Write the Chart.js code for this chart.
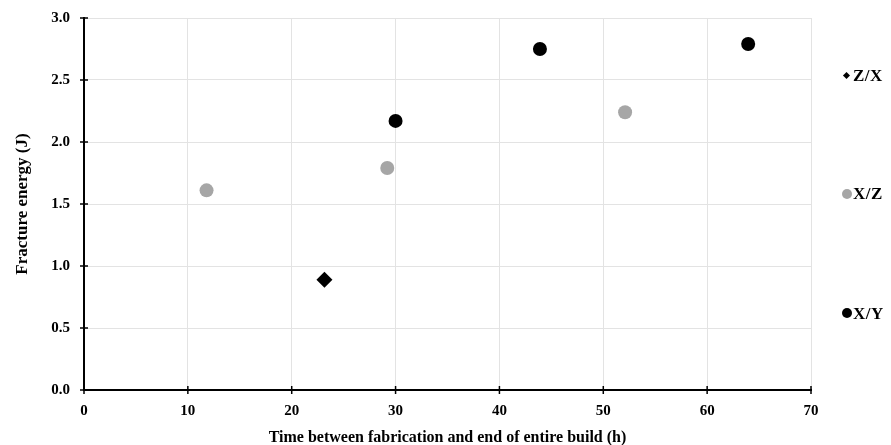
<!DOCTYPE html>
<html><head><meta charset="utf-8">
<script src="https://cdn.jsdelivr.net/npm/chart.js@4/dist/chart.umd.min.js"></script>
<style>
html,body{margin:0;padding:0;background:#fff;}
#wrap{position:relative;width:891px;height:445px;}
canvas{position:absolute;left:0;top:0;}
.mk{position:absolute;}
.lt{position:absolute;left:853px;font:bold 17px "Liberation Serif",serif;color:#000;line-height:17px;height:17px;white-space:nowrap;letter-spacing:0.5px;}
</style></head><body>
<div id="wrap"><canvas id="c" width="891" height="445"></canvas>
<span class="mk" style="left:843.5px;top:72.5px;width:5px;height:5px;background:#000;transform:rotate(45deg)"></span>
<span class="lt" style="top:67px">Z/X</span>
<span class="mk" style="left:842px;top:188.5px;width:10px;height:10px;border-radius:50%;background:#a6a6a6"></span>
<span class="lt" style="top:185px">X/Z</span>
<span class="mk" style="left:842px;top:308px;width:10px;height:10px;border-radius:50%;background:#000"></span>
<span class="lt" style="top:304.5px">X/Y</span>
</div>
<script>
const seriesNames = ["Z/X", "X/Z", "X/Y"];
const zxX = [23.15];
const zxY = [0.89];
const xzX = [11.8, 29.2, 52.1];
const xzY = [1.61, 1.79, 2.24];
const xyX = [30.0, 43.9, 63.95];
const xyY = [2.17, 2.75, 2.79];
const xTicks = [0, 10, 20, 30, 40, 50, 60, 70];
const yTicks = [0.0, 0.5, 1.0, 1.5, 2.0, 2.5, 3.0];

const pts = (xs, ys) => xs.map((x, i) => ({x, y: ys[i]}));
const font = {family: '"Liberation Serif", serif', weight: 'bold', size: 15};

const crossTicks = {
  id: 'crossTicks',
  afterDraw(chart) {
    const ctx = chart.ctx, xs = chart.scales.x, ys = chart.scales.y;
    ctx.save();
    ctx.strokeStyle = '#000'; ctx.lineWidth = 1.5;
    xTicks.forEach(v => {
      const px = xs.getPixelForValue(v);
      ctx.beginPath(); ctx.moveTo(px, ys.bottom - 4); ctx.lineTo(px, ys.bottom + 4); ctx.stroke();
    });
    yTicks.forEach(v => {
      const py = ys.getPixelForValue(v);
      ctx.beginPath(); ctx.moveTo(xs.left - 4, py); ctx.lineTo(xs.left + 4, py); ctx.stroke();
    });
    ctx.restore();
  }
};

new Chart(document.getElementById('c'), {
  type: 'scatter',
  data: {
    datasets: [
      {label: seriesNames[0], data: pts(zxX, zxY), pointStyle: 'rectRot', pointRadius: 8, backgroundColor: '#000', borderColor: '#000', borderWidth: 0},
      {label: seriesNames[1], data: pts(xzX, xzY), pointStyle: 'circle', pointRadius: 7, backgroundColor: '#a6a6a6', borderColor: '#a6a6a6', borderWidth: 0},
      {label: seriesNames[2], data: pts(xyX, xyY), pointStyle: 'circle', pointRadius: 7, backgroundColor: '#000', borderColor: '#000', borderWidth: 0}
    ]
  },
  options: {
    responsive: false,
    animation: false,
    layout: {padding: {left: 0, right: 80, top: 18, bottom: 0}},
    plugins: {legend: {display: false}, tooltip: {enabled: false}},
    scales: {
      x: {
        type: 'linear', min: 0, max: 70,
        afterBuildTicks: s => { s.ticks = xTicks.map(v => ({value: v})); },
        afterFit: s => { s.height = 55; s.paddingLeft = 0; s.paddingRight = 0; },
        grid: {color: '#e3e3e3', lineWidth: 1, drawTicks: false},
        border: {color: '#000', width: 2},
        ticks: {font, color: '#000', padding: 12},
        title: {display: true, text: 'Time between fabrication and end of entire build (h)', font: {family: '"Liberation Serif", serif', weight: 'bold', size: 16}, color: '#000', padding: {top: 0, bottom: -2}}
      },
      y: {
        type: 'linear', min: 0, max: 3,
        afterBuildTicks: s => { s.ticks = yTicks.map(v => ({value: v})); },
        afterFit: s => { s.width = 84; s.paddingTop = 0; s.paddingBottom = 0; },
        grid: {color: '#e3e3e3', lineWidth: 1, drawTicks: false},
        border: {color: '#000', width: 2},
        ticks: {font, color: '#000', padding: 14, callback: v => v.toFixed(1)},
        title: {display: true, text: 'Fracture energy (J)', font: {family: '"Liberation Serif", serif', weight: 'bold', size: 17}, color: '#000', padding: {top: 12, bottom: 0}}
      }
    }
  },
  plugins: [crossTicks]
});
</script>
</body></html>
